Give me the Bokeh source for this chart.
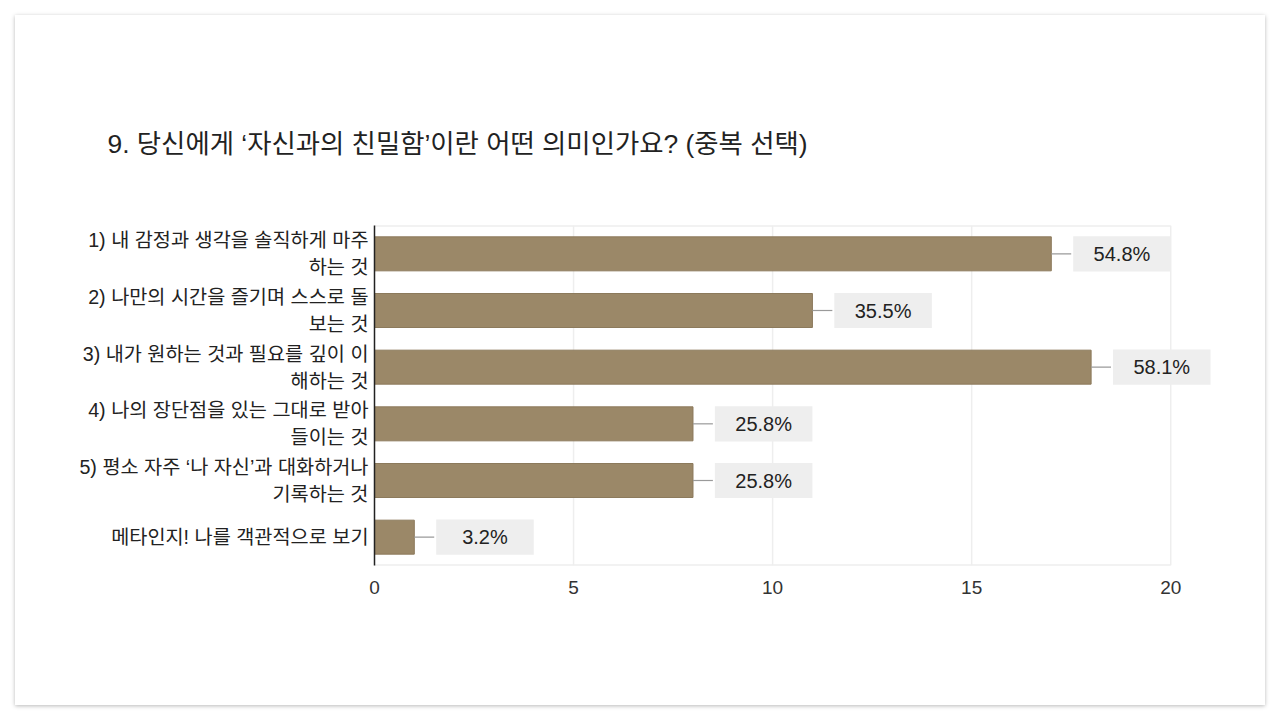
from bokeh.plotting import figure
from bokeh.models import ColumnDataSource, FixedTicker, Range1d
from bokeh.core.properties import value
from bokeh.embed import file_html
from bokeh.resources import INLINE

title = "9. 당신에게 ‘자신과의 친밀함’이란 어떤 의미인가요? (중복 선택)"
answers = [
    "1) 내 감정과 생각을 솔직하게 마주\n하는 것",
    "2) 나만의 시간을 즐기며 스스로 돌\n보는 것",
    "3) 내가 원하는 것과 필요를 깊이 이\n해하는 것",
    "4) 나의 장단점을 있는 그대로 받아\n들이는 것",
    "5) 평소 자주 ‘나 자신’과 대화하거나\n기록하는 것",
    "메타인지! 나를 객관적으로 보기",
]
counts = [17, 11, 18, 8, 8, 1]
percents = ["54.8%", "35.5%", "58.1%", "25.8%", "25.8%", "3.2%"]
x_ticks = [0, 5, 10, 15, 20]

FONT = "'Liberation Sans', 'Noto Sans CJK KR'"
n = len(answers)
ypos = [n - 1 - i for i in range(n)]  # first answer on top

src = ColumnDataSource(dict(
    y=ypos,
    count=counts,
    pct=percents,
    line_end=[c + 0.5 for c in counts],
    box_left=[c + 0.55 for c in counts],
    box_right=[c + 3.0 for c in counts],
    box_mid=[c + 1.775 for c in counts],
))

p = figure(
    width=1250, height=690,
    x_range=Range1d(0, 21.25),
    y_range=Range1d(-0.5, n - 0.5),
    output_backend="svg", toolbar_location=None,
    min_border_left=359, min_border_right=45,
    min_border_top=210, min_border_bottom=140,
    background_fill_color="white", border_fill_color="white",
    outline_line_color=None,
    styles={"box-shadow": "0 1px 4px rgba(0,0,0,0.28)",
            "transform": "translate(15px, 15px)"},
)

p.title.text = title
p.title.text_font = FONT
p.title.text_font_size = "26.4px"
p.title.text_font_style = "normal"
p.title.text_color = "#222222"
p.title.align = "left"
p.title.offset = -267
p.title.standoff = 133

# frame top / bottom edges and grid (only over 0..20)
p.segment(x0=[0, 0], x1=[x_ticks[-1], x_ticks[-1]], y0=[-0.5, n - 0.5], y1=[-0.5, n - 0.5],
          line_color="#e6e6e6", line_width=2)
p.segment(x0=x_ticks[1:], x1=x_ticks[1:], y0=-0.5, y1=n - 0.5,
          line_color="#eeeeee", line_width=1.5)

# bars
p.hbar(y="y", right="count", left=0, height=0.6, source=src,
       fill_color="#9b8868", line_color="#8c7a5c", line_width=1)

# leader lines + value boxes
p.segment(x0="count", x1="line_end", y0="y", y1="y", source=src,
          line_color="#9a9a9a", line_width=1.2)
p.hbar(y="y", left="box_left", right="box_right", height=0.62, source=src,
       fill_color="#eeeeee", line_color=None)
p.text(x="box_mid", y="y", text="pct", source=src,
       text_align="center", text_baseline="middle",
       text_font=value(FONT), text_font_size="20px", text_color="#222222")

# axes
p.xaxis.ticker = FixedTicker(ticks=x_ticks)
p.xaxis.axis_line_color = None
p.xaxis.major_tick_line_color = None
p.xaxis.minor_tick_line_color = None
p.xaxis.major_label_standoff = 9
p.xaxis.major_label_text_font = FONT
p.xaxis.major_label_text_font_size = "19px"
p.xaxis.major_label_text_color = "#333333"

p.yaxis.ticker = FixedTicker(ticks=ypos)
p.yaxis.major_label_overrides = {y: a for y, a in zip(ypos, answers)}
p.yaxis.axis_line_color = "#222222"
p.yaxis.axis_line_width = 1.5
p.yaxis.major_tick_line_color = None
p.yaxis.minor_tick_line_color = None
p.yaxis.major_label_standoff = 0
p.yaxis.major_label_text_font = FONT
p.yaxis.major_label_text_font_size = "19.7px"
p.yaxis.major_label_text_line_height = 1.22
p.yaxis.major_label_text_color = "#222222"

p.xgrid.grid_line_color = None
p.ygrid.grid_line_color = None

open("out.html", "w").write(file_html(p, INLINE))
